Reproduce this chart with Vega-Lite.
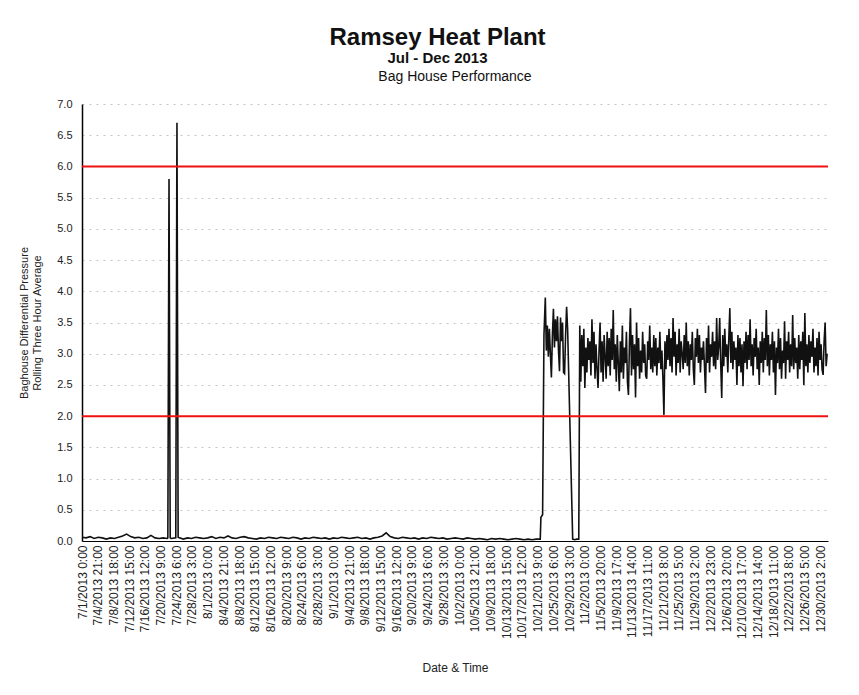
{
"$schema":"https://vega.github.io/schema/vega-lite/v6.json",
"padding":{"left":18,"top":26,"right":10,"bottom":5},
"background":"white",
"title":{"text":"Ramsey Heat Plant","subtitle":"Jul - Dec 2013","fontSize":24,"fontWeight":"bold","subtitleFontSize":15,"subtitleFontWeight":"bold","subtitleColor":"#111","color":"#111","anchor":"middle","subtitlePadding":1,"offset":4,"dx":13,"font":"Liberation Sans","subtitleFont":"Liberation Sans"},
"config":{"font":"Liberation Sans","view":{"stroke":null},"axis":{"labelFont":"Liberation Sans","titleFont":"Liberation Sans","labelColor":"#222","titleColor":"#222","titleFontWeight":"normal"}},
"datasets":{
"limits":[{"p":6},{"p":2}],
"pressure":[
{"t":"2013-07-01T00:00","p":0.06},{"t":"2013-07-02T00:00","p":0.05},{"t":"2013-07-03T00:00","p":0.07},{"t":"2013-07-04T00:00","p":0.04},{"t":"2013-07-05T00:00","p":0.06},{"t":"2013-07-06T00:00","p":0.05},{"t":"2013-07-07T00:00","p":0.03},{"t":"2013-07-08T00:00","p":0.05},{"t":"2013-07-09T00:00","p":0.04},{"t":"2013-07-10T00:00","p":0.06},{"t":"2013-07-11T00:00","p":0.08},{"t":"2013-07-12T00:00","p":0.11},{"t":"2013-07-13T00:00","p":0.07},{"t":"2013-07-14T00:00","p":0.05},{"t":"2013-07-15T00:00","p":0.06},{"t":"2013-07-16T00:00","p":0.04},{"t":"2013-07-17T00:00","p":0.05},{"t":"2013-07-18T00:00","p":0.09},{"t":"2013-07-19T00:00","p":0.05},{"t":"2013-07-20T00:00","p":0.04},{"t":"2013-07-21T00:00","p":0.05},{"t":"2013-07-22T00:00","p":0.04},{"t":"2013-07-22T04:00","p":0.05},{"t":"2013-07-22T11:00","p":5.8},{"t":"2013-07-22T18:00","p":0.05},{"t":"2013-07-23T00:00","p":0.04},{"t":"2013-07-24T03:00","p":0.05},{"t":"2013-07-24T10:00","p":6.7},{"t":"2013-07-24T17:00","p":0.06},{"t":"2013-07-25T00:00","p":0.05},{"t":"2013-07-26T00:00","p":0.03},{"t":"2013-07-27T00:00","p":0.05},{"t":"2013-07-28T00:00","p":0.04},{"t":"2013-07-29T00:00","p":0.06},{"t":"2013-07-30T00:00","p":0.05},{"t":"2013-07-31T00:00","p":0.04},
{"t":"2013-08-01T00:00","p":0.05},{"t":"2013-08-02T00:00","p":0.07},{"t":"2013-08-03T00:00","p":0.04},{"t":"2013-08-04T00:00","p":0.06},{"t":"2013-08-05T00:00","p":0.05},{"t":"2013-08-06T00:00","p":0.08},{"t":"2013-08-07T00:00","p":0.05},{"t":"2013-08-08T00:00","p":0.04},{"t":"2013-08-09T00:00","p":0.06},{"t":"2013-08-10T00:00","p":0.07},{"t":"2013-08-11T00:00","p":0.05},{"t":"2013-08-12T00:00","p":0.04},{"t":"2013-08-13T00:00","p":0.03},{"t":"2013-08-14T00:00","p":0.05},{"t":"2013-08-15T00:00","p":0.04},{"t":"2013-08-16T00:00","p":0.06},{"t":"2013-08-17T00:00","p":0.05},{"t":"2013-08-18T00:00","p":0.04},{"t":"2013-08-19T00:00","p":0.06},{"t":"2013-08-20T00:00","p":0.05},{"t":"2013-08-21T00:00","p":0.04},{"t":"2013-08-22T00:00","p":0.06},{"t":"2013-08-23T00:00","p":0.05},{"t":"2013-08-24T00:00","p":0.03},{"t":"2013-08-25T00:00","p":0.05},{"t":"2013-08-26T00:00","p":0.04},{"t":"2013-08-27T00:00","p":0.06},{"t":"2013-08-28T00:00","p":0.05},{"t":"2013-08-29T00:00","p":0.04},{"t":"2013-08-30T00:00","p":0.05},{"t":"2013-08-31T00:00","p":0.03},
{"t":"2013-09-01T00:00","p":0.05},{"t":"2013-09-02T00:00","p":0.04},{"t":"2013-09-03T00:00","p":0.06},{"t":"2013-09-04T00:00","p":0.05},{"t":"2013-09-05T00:00","p":0.04},{"t":"2013-09-06T00:00","p":0.05},{"t":"2013-09-07T00:00","p":0.06},{"t":"2013-09-08T00:00","p":0.04},{"t":"2013-09-09T00:00","p":0.05},{"t":"2013-09-10T00:00","p":0.03},{"t":"2013-09-11T00:00","p":0.05},{"t":"2013-09-12T00:00","p":0.06},{"t":"2013-09-13T00:00","p":0.08},{"t":"2013-09-14T00:00","p":0.13},{"t":"2013-09-15T00:00","p":0.07},{"t":"2013-09-16T00:00","p":0.05},{"t":"2013-09-17T00:00","p":0.04},{"t":"2013-09-18T00:00","p":0.06},{"t":"2013-09-19T00:00","p":0.05},{"t":"2013-09-20T00:00","p":0.04},{"t":"2013-09-21T00:00","p":0.05},{"t":"2013-09-22T00:00","p":0.03},{"t":"2013-09-23T00:00","p":0.05},{"t":"2013-09-24T00:00","p":0.04},{"t":"2013-09-25T00:00","p":0.06},{"t":"2013-09-26T00:00","p":0.05},{"t":"2013-09-27T00:00","p":0.04},{"t":"2013-09-28T00:00","p":0.05},{"t":"2013-09-29T00:00","p":0.03},{"t":"2013-09-30T00:00","p":0.04},
{"t":"2013-10-01T00:00","p":0.05},{"t":"2013-10-02T00:00","p":0.04},{"t":"2013-10-03T00:00","p":0.03},{"t":"2013-10-04T00:00","p":0.05},{"t":"2013-10-05T00:00","p":0.04},{"t":"2013-10-06T00:00","p":0.03},{"t":"2013-10-07T00:00","p":0.04},{"t":"2013-10-08T00:00","p":0.03},{"t":"2013-10-09T00:00","p":0.02},{"t":"2013-10-10T00:00","p":0.04},{"t":"2013-10-11T00:00","p":0.03},{"t":"2013-10-12T00:00","p":0.04},{"t":"2013-10-13T00:00","p":0.03},{"t":"2013-10-14T00:00","p":0.02},{"t":"2013-10-15T00:00","p":0.03},{"t":"2013-10-16T00:00","p":0.04},{"t":"2013-10-17T00:00","p":0.03},{"t":"2013-10-18T00:00","p":0.02},{"t":"2013-10-19T00:00","p":0.03},{"t":"2013-10-20T00:00","p":0.02},{"t":"2013-10-21T00:00","p":0.03},{"t":"2013-10-22T00:00","p":0.03},{"t":"2013-10-22T04:00","p":0.38},{"t":"2013-10-22T14:00","p":0.42},{"t":"2013-10-22T22:00","p":3.3},
{"t":"2013-10-23T06:00","p":3.9},{"t":"2013-10-23T12:00","p":3.05},{"t":"2013-10-23T18:00","p":3.45},{"t":"2013-10-24T00:00","p":2.95},{"t":"2013-10-24T06:00","p":3.4},{"t":"2013-10-24T12:00","p":3.0},{"t":"2013-10-24T18:00","p":2.62},{"t":"2013-10-25T00:00","p":3.3},{"t":"2013-10-25T06:00","p":3.72},{"t":"2013-10-25T12:00","p":3.1},{"t":"2013-10-25T18:00","p":3.55},{"t":"2013-10-26T00:00","p":3.2},{"t":"2013-10-26T06:00","p":3.6},{"t":"2013-10-26T12:00","p":3.05},{"t":"2013-10-26T18:00","p":2.72},{"t":"2013-10-27T00:00","p":3.58},{"t":"2013-10-27T06:00","p":3.2},{"t":"2013-10-27T12:00","p":3.5},{"t":"2013-10-27T18:00","p":2.7},{"t":"2013-10-28T00:00","p":2.68},{"t":"2013-10-28T06:00","p":3.3},{"t":"2013-10-28T12:00","p":3.75},{"t":"2013-10-28T18:00","p":3.4},{"t":"2013-10-30T00:00","p":0.03},{"t":"2013-10-30T12:00","p":0.02},{"t":"2013-10-31T00:00","p":0.03},{"t":"2013-10-31T12:00","p":0.03},{"t":"2013-10-31T18:00","p":3.45},
{"t":"2013-11-01T00:00","p":2.55},{"t":"2013-11-01T06:00","p":3.3},{"t":"2013-11-01T12:00","p":2.8},{"t":"2013-11-01T18:00","p":3.4},
{"t":"2013-11-02T00:00","p":2.45},{"t":"2013-11-02T06:00","p":3.1},{"t":"2013-11-02T12:00","p":2.7},{"t":"2013-11-02T18:00","p":3.25},
{"t":"2013-11-03T00:00","p":2.9},{"t":"2013-11-03T06:00","p":3.2},{"t":"2013-11-03T12:00","p":2.65},{"t":"2013-11-03T18:00","p":3.55},
{"t":"2013-11-04T00:00","p":2.85},{"t":"2013-11-04T06:00","p":3.35},{"t":"2013-11-04T12:00","p":2.6},{"t":"2013-11-04T18:00","p":3.15},
{"t":"2013-11-05T00:00","p":2.75},{"t":"2013-11-05T06:00","p":2.45},{"t":"2013-11-05T12:00","p":3.05},{"t":"2013-11-05T18:00","p":3.5},
{"t":"2013-11-06T00:00","p":2.7},{"t":"2013-11-06T06:00","p":3.2},{"t":"2013-11-06T12:00","p":2.55},{"t":"2013-11-06T18:00","p":3.3},
{"t":"2013-11-07T00:00","p":2.95},{"t":"2013-11-07T06:00","p":2.6},{"t":"2013-11-07T12:00","p":3.35},{"t":"2013-11-07T18:00","p":2.8},
{"t":"2013-11-08T00:00","p":3.25},{"t":"2013-11-08T06:00","p":2.65},{"t":"2013-11-08T12:00","p":3.4},{"t":"2013-11-08T18:00","p":2.9},
{"t":"2013-11-09T00:00","p":3.7},{"t":"2013-11-09T06:00","p":2.75},{"t":"2013-11-09T12:00","p":3.15},{"t":"2013-11-09T18:00","p":2.55},
{"t":"2013-11-10T00:00","p":3.3},{"t":"2013-11-10T06:00","p":2.85},{"t":"2013-11-10T12:00","p":2.4},{"t":"2013-11-10T18:00","p":3.2},
{"t":"2013-11-11T00:00","p":2.7},{"t":"2013-11-11T06:00","p":3.45},{"t":"2013-11-11T12:00","p":2.6},{"t":"2013-11-11T18:00","p":3.1},
{"t":"2013-11-12T00:00","p":2.85},{"t":"2013-11-12T06:00","p":3.35},{"t":"2013-11-12T12:00","p":2.55},{"t":"2013-11-12T18:00","p":2.34},
{"t":"2013-11-13T00:00","p":3.2},{"t":"2013-11-13T06:00","p":3.73},{"t":"2013-11-13T12:00","p":2.65},{"t":"2013-11-13T18:00","p":3.3},
{"t":"2013-11-14T00:00","p":2.75},{"t":"2013-11-14T06:00","p":3.15},{"t":"2013-11-14T12:00","p":2.3},{"t":"2013-11-14T18:00","p":3.5},
{"t":"2013-11-15T00:00","p":2.8},{"t":"2013-11-15T06:00","p":3.25},{"t":"2013-11-15T12:00","p":2.6},{"t":"2013-11-15T18:00","p":3.05},
{"t":"2013-11-16T00:00","p":2.7},{"t":"2013-11-16T06:00","p":3.35},{"t":"2013-11-16T12:00","p":2.85},{"t":"2013-11-16T18:00","p":3.15},
{"t":"2013-11-17T00:00","p":2.65},{"t":"2013-11-17T06:00","p":2.6},{"t":"2013-11-17T12:00","p":3.2},{"t":"2013-11-17T18:00","p":2.9},
{"t":"2013-11-18T00:00","p":3.45},{"t":"2013-11-18T06:00","p":2.75},{"t":"2013-11-18T12:00","p":3.1},{"t":"2013-11-18T18:00","p":2.7},
{"t":"2013-11-19T00:00","p":3.3},{"t":"2013-11-19T06:00","p":2.8},{"t":"2013-11-19T12:00","p":3.25},{"t":"2013-11-19T18:00","p":2.65},
{"t":"2013-11-20T00:00","p":3.1},{"t":"2013-11-20T06:00","p":2.85},{"t":"2013-11-20T12:00","p":3.35},{"t":"2013-11-20T18:00","p":2.75},
{"t":"2013-11-21T00:00","p":3.05},{"t":"2013-11-21T06:00","p":2.6},{"t":"2013-11-21T12:00","p":2.02},{"t":"2013-11-21T18:00","p":3.2},
{"t":"2013-11-22T00:00","p":2.75},{"t":"2013-11-22T06:00","p":3.3},{"t":"2013-11-22T12:00","p":2.9},{"t":"2013-11-22T18:00","p":3.4},
{"t":"2013-11-23T00:00","p":2.8},{"t":"2013-11-23T06:00","p":3.25},{"t":"2013-11-23T12:00","p":2.7},{"t":"2013-11-23T18:00","p":3.57},
{"t":"2013-11-24T00:00","p":2.95},{"t":"2013-11-24T06:00","p":3.35},{"t":"2013-11-24T12:00","p":2.65},{"t":"2013-11-24T18:00","p":3.15},
{"t":"2013-11-25T00:00","p":2.85},{"t":"2013-11-25T06:00","p":3.4},{"t":"2013-11-25T12:00","p":2.7},{"t":"2013-11-25T18:00","p":3.2},
{"t":"2013-11-26T00:00","p":3.0},{"t":"2013-11-26T06:00","p":2.75},{"t":"2013-11-26T12:00","p":3.3},{"t":"2013-11-26T18:00","p":2.85},
{"t":"2013-11-27T00:00","p":3.5},{"t":"2013-11-27T06:00","p":2.8},{"t":"2013-11-27T12:00","p":3.2},{"t":"2013-11-27T18:00","p":2.65},
{"t":"2013-11-28T00:00","p":3.15},{"t":"2013-11-28T06:00","p":2.9},{"t":"2013-11-28T12:00","p":3.35},{"t":"2013-11-28T18:00","p":2.75},
{"t":"2013-11-29T00:00","p":2.5},{"t":"2013-11-29T06:00","p":3.25},{"t":"2013-11-29T12:00","p":2.95},{"t":"2013-11-29T18:00","p":3.4},
{"t":"2013-11-30T00:00","p":2.85},{"t":"2013-11-30T06:00","p":3.3},{"t":"2013-11-30T12:00","p":2.7},{"t":"2013-11-30T18:00","p":3.1},
{"t":"2013-12-01T00:00","p":2.9},{"t":"2013-12-01T06:00","p":3.2},{"t":"2013-12-01T12:00","p":2.8},{"t":"2013-12-01T18:00","p":2.37},
{"t":"2013-12-02T00:00","p":3.25},{"t":"2013-12-02T06:00","p":2.85},{"t":"2013-12-02T12:00","p":3.45},{"t":"2013-12-02T18:00","p":2.7},
{"t":"2013-12-03T00:00","p":3.15},{"t":"2013-12-03T06:00","p":2.95},{"t":"2013-12-03T12:00","p":3.35},{"t":"2013-12-03T18:00","p":2.8},
{"t":"2013-12-04T00:00","p":3.2},{"t":"2013-12-04T06:00","p":2.75},{"t":"2013-12-04T12:00","p":3.57},{"t":"2013-12-04T18:00","p":2.9},
{"t":"2013-12-05T00:00","p":3.1},{"t":"2013-12-05T06:00","p":3.57},{"t":"2013-12-05T12:00","p":2.85},{"t":"2013-12-05T18:00","p":2.29},
{"t":"2013-12-06T00:00","p":3.3},{"t":"2013-12-06T06:00","p":2.8},{"t":"2013-12-06T12:00","p":3.4},{"t":"2013-12-06T18:00","p":2.95},
{"t":"2013-12-07T00:00","p":3.15},{"t":"2013-12-07T06:00","p":2.7},{"t":"2013-12-07T12:00","p":3.25},{"t":"2013-12-07T18:00","p":3.73},
{"t":"2013-12-08T00:00","p":2.85},{"t":"2013-12-08T06:00","p":3.35},{"t":"2013-12-08T12:00","p":2.75},{"t":"2013-12-08T18:00","p":3.2},
{"t":"2013-12-09T00:00","p":2.9},{"t":"2013-12-09T06:00","p":3.1},{"t":"2013-12-09T12:00","p":2.5},{"t":"2013-12-09T18:00","p":3.3},
{"t":"2013-12-10T00:00","p":2.8},{"t":"2013-12-10T06:00","p":3.25},{"t":"2013-12-10T12:00","p":2.7},{"t":"2013-12-10T18:00","p":3.15},
{"t":"2013-12-11T00:00","p":2.48},{"t":"2013-12-11T06:00","p":3.2},{"t":"2013-12-11T12:00","p":2.85},{"t":"2013-12-11T18:00","p":3.35},
{"t":"2013-12-12T00:00","p":2.75},{"t":"2013-12-12T06:00","p":3.3},{"t":"2013-12-12T12:00","p":2.9},{"t":"2013-12-12T18:00","p":3.55},
{"t":"2013-12-13T00:00","p":2.8},{"t":"2013-12-13T06:00","p":3.15},{"t":"2013-12-13T12:00","p":2.65},{"t":"2013-12-13T18:00","p":3.25},
{"t":"2013-12-14T00:00","p":2.95},{"t":"2013-12-14T06:00","p":3.4},{"t":"2013-12-14T12:00","p":2.75},{"t":"2013-12-14T18:00","p":3.1},
{"t":"2013-12-15T00:00","p":2.5},{"t":"2013-12-15T06:00","p":3.2},{"t":"2013-12-15T12:00","p":2.85},{"t":"2013-12-15T18:00","p":3.35},
{"t":"2013-12-16T00:00","p":2.7},{"t":"2013-12-16T06:00","p":3.25},{"t":"2013-12-16T12:00","p":2.9},{"t":"2013-12-16T18:00","p":3.7},
{"t":"2013-12-17T00:00","p":2.8},{"t":"2013-12-17T06:00","p":3.3},{"t":"2013-12-17T12:00","p":2.65},{"t":"2013-12-17T18:00","p":3.15},
{"t":"2013-12-18T00:00","p":2.9},{"t":"2013-12-18T06:00","p":3.35},{"t":"2013-12-18T12:00","p":2.7},{"t":"2013-12-18T18:00","p":3.2},
{"t":"2013-12-19T00:00","p":2.34},{"t":"2013-12-19T06:00","p":3.1},{"t":"2013-12-19T12:00","p":2.85},{"t":"2013-12-19T18:00","p":3.4},
{"t":"2013-12-20T00:00","p":2.75},{"t":"2013-12-20T06:00","p":3.25},{"t":"2013-12-20T12:00","p":2.6},{"t":"2013-12-20T18:00","p":3.05},
{"t":"2013-12-21T00:00","p":2.85},{"t":"2013-12-21T06:00","p":3.52},{"t":"2013-12-21T12:00","p":2.6},{"t":"2013-12-21T18:00","p":3.2},
{"t":"2013-12-22T00:00","p":2.9},{"t":"2013-12-22T06:00","p":3.35},{"t":"2013-12-22T12:00","p":2.7},{"t":"2013-12-22T18:00","p":3.15},
{"t":"2013-12-23T00:00","p":2.8},{"t":"2013-12-23T06:00","p":3.62},{"t":"2013-12-23T12:00","p":2.75},{"t":"2013-12-23T18:00","p":3.25},
{"t":"2013-12-24T00:00","p":2.85},{"t":"2013-12-24T06:00","p":3.1},{"t":"2013-12-24T12:00","p":2.6},{"t":"2013-12-24T18:00","p":3.3},
{"t":"2013-12-25T00:00","p":2.75},{"t":"2013-12-25T06:00","p":3.2},{"t":"2013-12-25T12:00","p":2.9},{"t":"2013-12-25T18:00","p":3.35},
{"t":"2013-12-26T00:00","p":2.5},{"t":"2013-12-26T06:00","p":3.65},{"t":"2013-12-26T12:00","p":2.8},{"t":"2013-12-26T18:00","p":3.15},
{"t":"2013-12-27T00:00","p":2.7},{"t":"2013-12-27T06:00","p":3.3},{"t":"2013-12-27T12:00","p":2.85},{"t":"2013-12-27T18:00","p":3.2},
{"t":"2013-12-28T00:00","p":2.95},{"t":"2013-12-28T06:00","p":3.4},{"t":"2013-12-28T12:00","p":2.7},{"t":"2013-12-28T18:00","p":3.1},
{"t":"2013-12-29T00:00","p":2.8},{"t":"2013-12-29T06:00","p":3.25},{"t":"2013-12-29T12:00","p":2.65},{"t":"2013-12-29T18:00","p":3.35},
{"t":"2013-12-30T00:00","p":2.9},{"t":"2013-12-30T06:00","p":3.15},{"t":"2013-12-30T12:00","p":2.75},{"t":"2013-12-30T18:00","p":2.66},
{"t":"2013-12-31T00:00","p":3.2},{"t":"2013-12-31T06:00","p":3.5},{"t":"2013-12-31T12:00","p":2.8},{"t":"2013-12-31T18:00","p":3.0}
]},
"vconcat":[{
"title":{"text":"Bag House  Performance","fontSize":14,"fontWeight":"normal","anchor":"middle","frame":"group","offset":14,"color":"#111","font":"Liberation Sans"},
"width":746,"height":437,
"encoding":{
"y":{"field":"p","type":"quantitative","title":["Baghouse Differential Pressure","Rolling Three Hour Average"],
"scale":{"domain":[0,7],"nice":false},
"axis":{"values":[0,0.5,1,1.5,2,2.5,3,3.5,4,4.5,5,5.5,6,6.5,7],"tickCount":20,"format":".1f","labelFontSize":11,"labelOverlap":false,"ticks":false,"labelPadding":10,"domainColor":"#000","domainWidth":1.5,"grid":true,"gridColor":"#c4c4c4","gridDash":[2,5],"gridWidth":1,"titleFontSize":11,"titlePadding":14,"titleLineHeight":13}}
},
"layer":[
{"data":{"name":"pressure"},"mark":{"type":"line","color":"#111","strokeWidth":1.6,"interpolate":"linear"},
"encoding":{
"x":{"field":"t","type":"temporal","title":"Date & Time",
"scale":{"domain":[{"year":2013,"month":7,"date":1,"hours":0},{"year":2013,"month":12,"date":31,"hours":23}],"nice":false},
"axis":{"format":"%-m/%-d/%Y %-H:%M","labelAngle":270,"labelFontSize":12,"labelOverlap":false,"labelFlush":false,"labelBound":false,"grid":false,"ticks":false,"domainColor":"#000","domainWidth":1,"labelPadding":4,"titleFontSize":12,"titlePadding":24,"tickCount":60,
"values":[
{"year":2013,"month":7,"date":1,"hours":0},{"year":2013,"month":7,"date":4,"hours":21},{"year":2013,"month":7,"date":8,"hours":18},{"year":2013,"month":7,"date":12,"hours":15},{"year":2013,"month":7,"date":16,"hours":12},{"year":2013,"month":7,"date":20,"hours":9},{"year":2013,"month":7,"date":24,"hours":6},{"year":2013,"month":7,"date":28,"hours":3},
{"year":2013,"month":8,"date":1,"hours":0},{"year":2013,"month":8,"date":4,"hours":21},{"year":2013,"month":8,"date":8,"hours":18},{"year":2013,"month":8,"date":12,"hours":15},{"year":2013,"month":8,"date":16,"hours":12},{"year":2013,"month":8,"date":20,"hours":9},{"year":2013,"month":8,"date":24,"hours":6},{"year":2013,"month":8,"date":28,"hours":3},
{"year":2013,"month":9,"date":1,"hours":0},{"year":2013,"month":9,"date":4,"hours":21},{"year":2013,"month":9,"date":8,"hours":18},{"year":2013,"month":9,"date":12,"hours":15},{"year":2013,"month":9,"date":16,"hours":12},{"year":2013,"month":9,"date":20,"hours":9},{"year":2013,"month":9,"date":24,"hours":6},{"year":2013,"month":9,"date":28,"hours":3},
{"year":2013,"month":10,"date":2,"hours":0},{"year":2013,"month":10,"date":5,"hours":21},{"year":2013,"month":10,"date":9,"hours":18},{"year":2013,"month":10,"date":13,"hours":15},{"year":2013,"month":10,"date":17,"hours":12},{"year":2013,"month":10,"date":21,"hours":9},{"year":2013,"month":10,"date":25,"hours":6},{"year":2013,"month":10,"date":29,"hours":3},
{"year":2013,"month":11,"date":2,"hours":0},{"year":2013,"month":11,"date":5,"hours":20},{"year":2013,"month":11,"date":9,"hours":17},{"year":2013,"month":11,"date":13,"hours":14},{"year":2013,"month":11,"date":17,"hours":11},{"year":2013,"month":11,"date":21,"hours":8},{"year":2013,"month":11,"date":25,"hours":5},{"year":2013,"month":11,"date":29,"hours":2},
{"year":2013,"month":12,"date":2,"hours":23},{"year":2013,"month":12,"date":6,"hours":20},{"year":2013,"month":12,"date":10,"hours":17},{"year":2013,"month":12,"date":14,"hours":14},{"year":2013,"month":12,"date":18,"hours":11},{"year":2013,"month":12,"date":22,"hours":8},{"year":2013,"month":12,"date":26,"hours":5},{"year":2013,"month":12,"date":30,"hours":2}
]}}
}},
{"data":{"name":"limits"},"mark":{"type":"rule","color":"#ee1111","strokeWidth":2},"encoding":{}}
]}]
}
